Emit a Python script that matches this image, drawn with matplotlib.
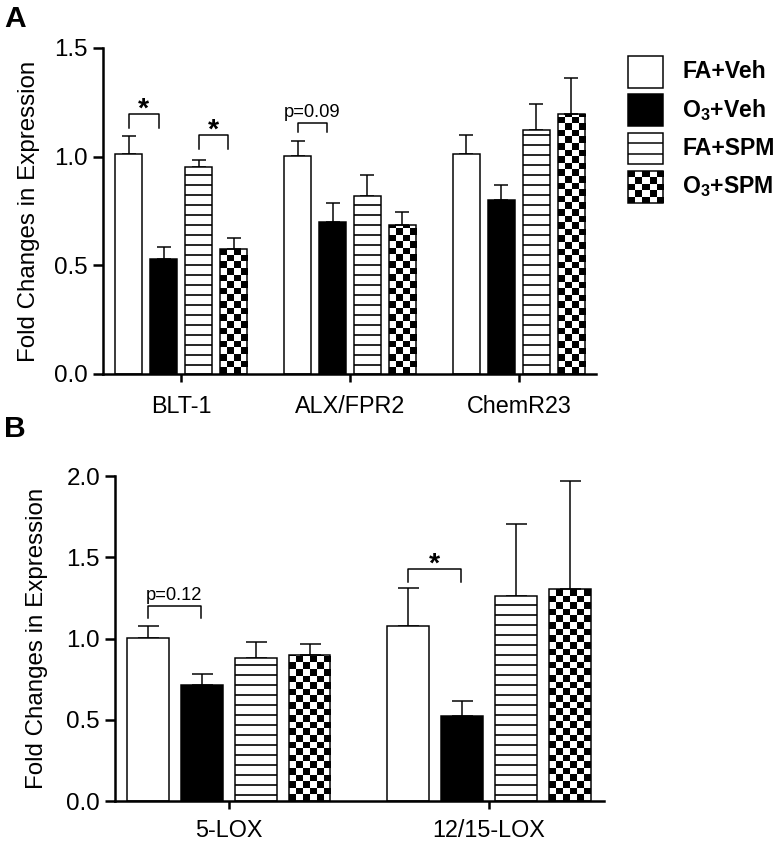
"""Fold changes in receptor / enzyme expression, panels A and B."""

import matplotlib

matplotlib.use("Agg")

import matplotlib.pyplot as plt
import numpy as np
from matplotlib.patches import Rectangle

plt.rcParams["font.family"] = ["Liberation Sans", "DejaVu Sans"]
plt.rcParams["mathtext.fontset"] = "custom"
plt.rcParams["mathtext.rm"] = "Liberation Sans"
plt.rcParams["mathtext.bf"] = "Liberation Sans:bold"
plt.rcParams["hatch.linewidth"] = 1.0

# ---- data -------------------------------------------------------------
series = ["FA+Veh", r"O$_\mathbf{3}$+Veh", "FA+SPM", r"O$_\mathbf{3}$+SPM"]

groups_a = ["BLT-1", "ALX/FPR2", "ChemR23"]
fa_veh_a = [1.01, 1.005, 1.01]
fa_veh_a_err = [0.087, 0.068, 0.089]
o3_veh_a = [0.53, 0.70, 0.80]
o3_veh_a_err = [0.054, 0.089, 0.07]
fa_spm_a = [0.952, 0.82, 1.123]
fa_spm_a_err = [0.033, 0.095, 0.121]
o3_spm_a = [0.577, 0.686, 1.196]
o3_spm_a_err = [0.049, 0.059, 0.167]

groups_b = ["5-LOX", "12/15-LOX"]
fa_veh_b = [1.003, 1.077]
fa_veh_b_err = [0.074, 0.234]
o3_veh_b = [0.714, 0.523]
o3_veh_b_err = [0.068, 0.092]
fa_spm_b = [0.88, 1.262]
fa_spm_b_err = [0.098, 0.443]
o3_spm_b = [0.898, 1.305]
o3_spm_b_err = [0.068, 0.664]

# significance brackets: (group, bar i, bar j, top, drop, label)
brackets_a = [(0, 0, 1, 1.195, 0.065, "*"), (0, 2, 3, 1.10, 0.065, "*"),
              (1, 0, 1, 1.155, 0.043, "p=0.09")]
brackets_b = [(0, 0, 1, 1.20, 0.073, "p=0.12"), (1, 0, 1, 1.428, 0.08, "*")]

STEP = 0.207
WIDTH = 0.16
CELL_PX = 6.6


def checker(ax, patch):
    x0, y0 = patch.get_x(), patch.get_y()
    w, h = patch.get_width(), patch.get_height()
    p0 = ax.transData.transform((x0, y0))
    p1 = ax.transData.transform((x0 + w, y0 + h))
    nx = max(1, int(round((p1[0] - p0[0]) / CELL_PX)))
    cell_y = CELL_PX * h / (p1[1] - p0[1])
    ny = int(np.ceil(h / cell_y))
    board = (np.add.outer(np.arange(ny), np.arange(nx)) % 2).astype(float)
    im = ax.imshow(board, cmap="gray", vmin=0, vmax=1, origin="lower",
                   extent=(x0, x0 + w, y0, y0 + ny * cell_y),
                   interpolation="nearest", aspect="auto", zorder=1.5)
    im.set_clip_path(patch)


def panel(fig, rect, groups, values, errors, brackets, ylim, yticks, xlim,
          capsize, pad, label_x, shrink):
    ax = fig.add_axes(rect)
    ax.set_xlim(*xlim)
    ax.set_ylim(*ylim)
    x = np.arange(len(groups))
    styles = [dict(facecolor="white"), dict(facecolor="black"),
              dict(facecolor="white", hatch="--"), dict(facecolor="none")]
    for i, (vals, errs) in enumerate(zip(values, errors)):
        pos = x + (i - 1.5) * STEP
        bars = ax.bar(pos, vals, WIDTH, edgecolor="black", linewidth=0.9,
                      zorder=2, **styles[i])
        ax.errorbar(pos, vals, yerr=[np.zeros(len(vals)), errs], fmt="none",
                    ecolor="black", elinewidth=0.9, capsize=capsize,
                    capthick=0.9, zorder=1.8)
        if i == 3:
            for b in bars:
                checker(ax, b)
    for g, i, j, top, drop, text in brackets:
        xl = g + (i - 1.5) * STEP
        xr = g + (j - 1.5) * STEP - shrink
        ax.plot([xl, xl, xr, xr], [top - drop, top, top, top - drop],
                color="black", lw=0.9, zorder=3)
        if text == "*":
            ax.annotate(text, ((xl + xr) / 2, top), xytext=(0, 2.5),
                        textcoords="offset points", ha="center", va="center",
                        fontsize=17, fontweight="bold")
        else:
            ax.annotate(text, ((xl + xr) / 2, top), xytext=(0, 3.5),
                        textcoords="offset points", ha="center",
                        va="baseline", fontsize=11)
    ax.set_xlim(*xlim)
    ax.set_ylim(*ylim)
    ax.set_xticks(x)
    ax.set_xticklabels(groups)
    ax.set_yticks(yticks)
    ax.set_yticklabels([f"{t:.1f}" for t in yticks])
    for s in ("top", "right"):
        ax.spines[s].set_visible(False)
    for s in ("left", "bottom"):
        ax.spines[s].set_linewidth(1.5)
    ax.tick_params(axis="y", length=6, width=1.5, pad=3, labelsize=14.5)
    ax.tick_params(axis="x", length=4.5, width=1.5, pad=pad, labelsize=14)
    ax.set_ylabel("Fold Changes in Expression", fontsize=14.5)
    ax.yaxis.set_label_coords(label_x, 0.5)
    return ax


fig = plt.figure(figsize=(6.5, 841 / 120), dpi=120)

panel(fig, [103 / 780, 1 - 374 / 841, 493 / 780, 326 / 841], groups_a,
      [fa_veh_a, o3_veh_a, fa_spm_a, o3_spm_a],
      [fa_veh_a_err, o3_veh_a_err, fa_spm_a_err, o3_spm_a_err],
      brackets_a, (0, 1.5), [0.0, 0.5, 1.0, 1.5], (-0.462, 2.456),
      capsize=4.2, pad=8, label_x=-0.127, shrink=0.03)

panel(fig, [115 / 780, 1 - 801 / 841, 489 / 780, 325 / 841], groups_b,
      [fa_veh_b, o3_veh_b, fa_spm_b, o3_spm_b],
      [fa_veh_b_err, o3_veh_b_err, fa_spm_b_err, o3_spm_b_err],
      brackets_b, (0, 2.0), [0.0, 0.5, 1.0, 1.5, 2.0], (-0.438, 1.442),
      capsize=6.3, pad=6.5, label_x=-0.137, shrink=0.005)

fig.text(4 / 780, 1 - 27 / 841, "A", fontsize=18, fontweight="bold")
fig.text(4 / 780, 1 - 437 / 841, "B", fontsize=18, fontweight="bold")

# ---- legend (drawn in pixel units) -------------------------------------
leg = fig.add_axes([625 / 780, 1 - 206 / 841, 41 / 780, 153 / 841])
rows = [(56, 88), (94, 126), (133, 164), (171, 203)]
for k, (top, bot) in enumerate(rows):
    face = "black" if k == 1 else ("none" if k == 3 else "white")
    leg.add_patch(Rectangle((628, top), 35, bot - top, facecolor=face,
                            edgecolor="black", linewidth=0.9, zorder=2))
    if k == 2:
        third = (bot - top) / 3
        leg.hlines([top + third, top + 2 * third], 628, 663, color="black",
                   lw=0.9, zorder=2)
    if k == 3:
        board = (np.add.outer(np.arange(5), np.arange(5)) % 2).astype(float)
        leg.imshow(board, cmap="gray", vmin=0, vmax=1,
                   extent=(628, 663, bot, top), interpolation="nearest",
                   aspect="auto", zorder=1.5)
    fig.text(682 / 780, 1 - (top + bot) / 2 / 841, series[k], fontsize=13.8,
             fontweight="bold", va="center")
leg.set_xlim(625, 666)
leg.set_ylim(206, 53)
leg.axis("off")

fig.savefig("out.png", dpi=120)
